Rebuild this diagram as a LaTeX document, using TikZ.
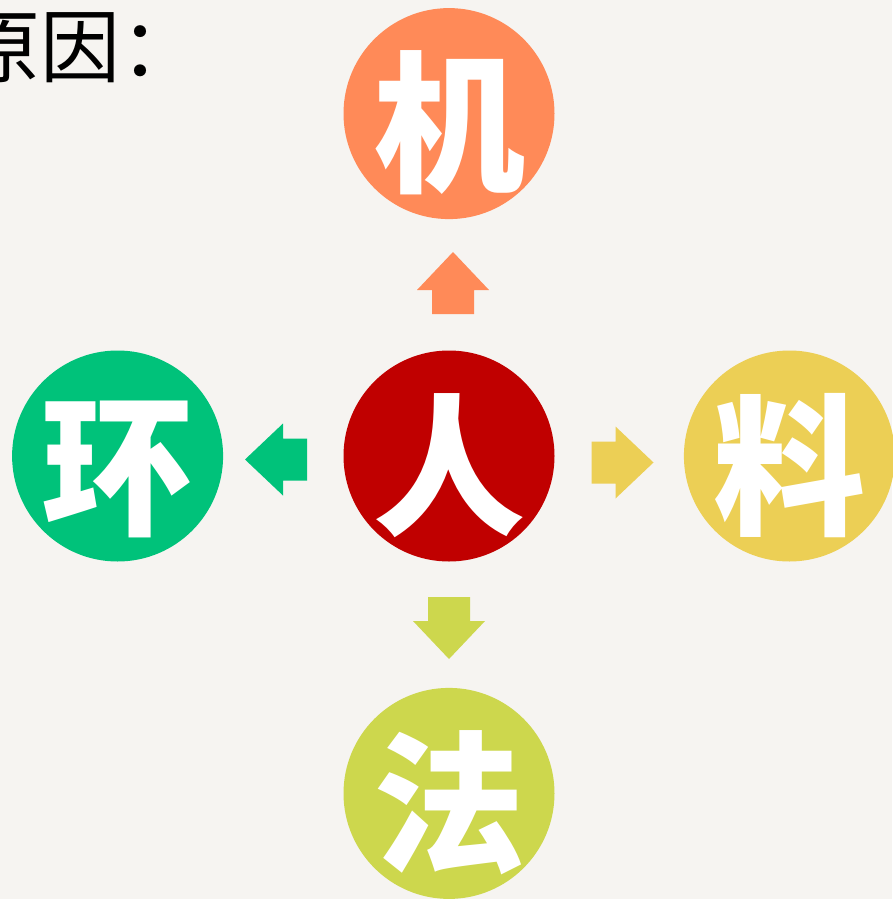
\documentclass[tikz,border=0pt]{standalone}
\usepackage{fontspec}
\usepackage{xcolor}
\usepackage{tikz}
\newfontfamily\cjk{Noto Sans CJK SC}
\usetikzlibrary{positioning}
\definecolor{paper}{HTML}{F6F4F1}
\definecolor{jiorange}{HTML}{FF8A58}
\definecolor{renred}{HTML}{C00000}
\definecolor{huangreen}{HTML}{00C27A}
\definecolor{liaoyellow}{HTML}{ECCF55}
\definecolor{falime}{HTML}{CDD74D}
% glyph with no size, so the circle keeps its own
\newcommand{\causechar}[1]{\smash{\makebox[0pt]{\raisebox{-67pt}{#1}}}}
% fat block arrow: centre, direction, colour
\newcommand{\fatarrow}[3]{%
  \fill[#3,shift={#1},rotate=#2] (31,0) -- (-7,-36) -- (-7,-21) -- (-31,-21)
    -- (-31,21) -- (-7,21) -- (-7,36) -- cycle;}

\begin{document}
\begin{tikzpicture}[x=1pt,y=-1pt,
                    cause/.style={circle,minimum size=211pt,inner sep=0pt,text=white,
                      font=\cjk\bfseries\fontsize{152}{152}\selectfont}]

  \fill[paper] (0,0) rectangle (892,899);
  \useasboundingbox (0,0) rectangle (892,899);

  \node[anchor=base west,inner sep=0pt,font=\cjk\fontsize{80}{80}\selectfont] (title) at (-40,76) {原因：};

  \node[cause,fill=renred] (ren) at (449,456) {\causechar{人}};
  \node[cause,fill=jiorange] (ji) [above=131pt of ren] {\causechar{机}};
  \node[cause,fill=huangreen] (huan) [left=120pt of ren] {\causechar{环}};
  \node[cause,fill=liaoyellow] (liao) [right=129pt of ren] {\causechar{料}};
  \node[cause,fill=falime] (fa) [below=126pt of ren] {\causechar{法}};

  \fatarrow{(453,283)}{90}{jiorange}
  \fatarrow{(276,459.5)}{180}{huangreen}
  \fatarrow{(622.5,462.5)}{0}{liaoyellow}
  \fatarrow{(449,628)}{-90}{falime}
\end{tikzpicture}
\end{document}
